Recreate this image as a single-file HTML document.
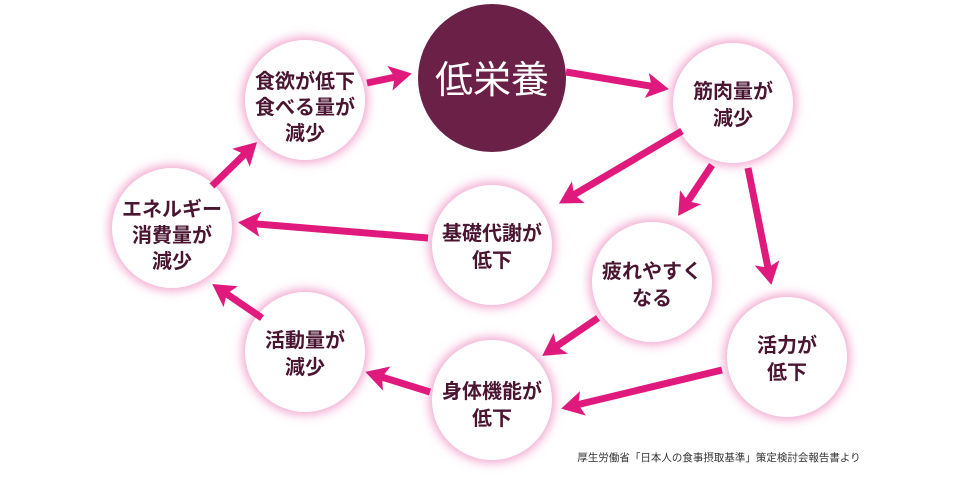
<!DOCTYPE html>
<html><head><meta charset="utf-8"><style>
html,body{margin:0;padding:0;background:#fff;width:960px;height:480px;overflow:hidden}
svg{display:block}
text{font-family:"Liberation Sans","Noto Sans CJK JP",sans-serif;font-weight:bold;fill:#4a1530;text-anchor:middle}
</style></head><body>
<svg width="960" height="480" viewBox="0 0 960 480">
<defs>
<filter id="g" x="-30%" y="-30%" width="160%" height="160%">
<feGaussianBlur stdDeviation="5"/>
</filter>
<marker id="a" markerWidth="4" markerHeight="4" refX="2.2" refY="2" orient="auto" markerUnits="strokeWidth">
<path d="M0,0.2 L3.2,2 L0,3.8 L0.7,2 Z" fill="#e0197d"/>
</marker>
</defs>
<g fill="#f2a6cf" filter="url(#g)">
<circle cx="305" cy="100" r="63"/><circle cx="733" cy="103" r="63"/>
<circle cx="172" cy="228" r="63"/><circle cx="492" cy="245" r="63"/>
<circle cx="652" cy="282" r="63"/><circle cx="787" cy="357" r="63"/>
<circle cx="305" cy="352" r="63"/><circle cx="492" cy="400" r="63"/>
</g>
<g fill="#fff">
<circle cx="305" cy="100" r="60"/><circle cx="733" cy="103" r="60"/>
<circle cx="172" cy="228" r="60"/><circle cx="492" cy="245" r="60"/>
<circle cx="652" cy="282" r="60"/><circle cx="787" cy="357" r="60"/>
<circle cx="305" cy="352" r="60"/><circle cx="492" cy="400" r="60"/>
</g>
<circle cx="492" cy="78" r="74" fill="#6b2147"/>
<g stroke="#e0197d" stroke-width="7" marker-end="url(#a)" fill="none">
<line x1="367" y1="83" x2="405" y2="75"/>
<line x1="566" y1="72" x2="662" y2="88"/>
<line x1="682" y1="131" x2="565" y2="200"/>
<line x1="712" y1="165" x2="682" y2="210"/>
<line x1="748" y1="168" x2="770" y2="278"/>
<line x1="428" y1="238" x2="245" y2="223"/>
<line x1="598" y1="318" x2="548" y2="352"/>
<line x1="722" y1="370" x2="568" y2="407"/>
<line x1="430" y1="392" x2="372" y2="374"/>
<line x1="262" y1="318" x2="218" y2="288"/>
<line x1="212" y1="186" x2="252" y2="147"/>
</g>
<g font-size="20">
<text x="305" y="88">食欲が低下</text>
<text x="305" y="114">食べる量が</text>
<text x="305" y="140">減少</text>
<text x="733" y="98">筋肉量が</text>
<text x="733" y="125">減少</text>
<text x="172" y="216">エネルギー</text>
<text x="172" y="242">消費量が</text>
<text x="172" y="268">減少</text>
<text x="492" y="240">基礎代謝が</text>
<text x="492" y="267">低下</text>
<text x="652" y="278">疲れやすく</text>
<text x="652" y="305">なる</text>
<text x="787" y="352">活力が</text>
<text x="787" y="379">低下</text>
<text x="305" y="347">活動量が</text>
<text x="305" y="374">減少</text>
<text x="492" y="398">身体機能が</text>
<text x="492" y="425">低下</text>
</g>
<text x="492" y="93" font-size="38" style="fill:#fff;font-weight:normal">低栄養</text>
<text x="719" y="461" font-size="10.5" style="font-weight:normal;fill:#333">厚生労働省「日本人の食事摂取基準」策定検討会報告書より</text>
</svg>
</body></html>
